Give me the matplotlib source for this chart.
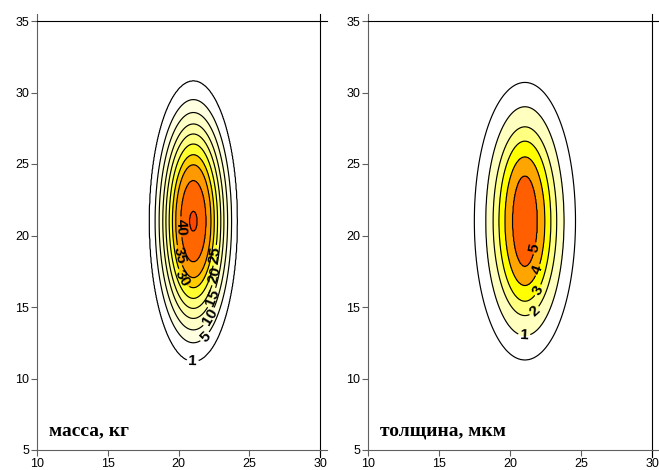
import numpy as np
import matplotlib.pyplot as plt
from matplotlib.font_manager import FontProperties

# ---- data ----
# left panel: масса, кг  (contour level -> half height / half width of the ellipse, in axis units)
mass_levels = [1, 5, 10, 15, 20, 25, 30, 35, 40, 45]
mass_half_h = [9.8, 8.5, 7.6, 6.8, 6.1, 5.4, 4.65, 3.95, 2.85, 0.7]
mass_half_w = [3.1, 2.7, 2.42, 2.16, 1.94, 1.71, 1.48, 1.25, 0.9, 0.28]
mass_peak = 46
mass_labels = [1, 5, 10, 15, 20, 25, 30, 35, 40]

# right panel: толщина, мкм
thick_levels = [0.5, 1, 2, 3, 4, 5]
thick_half_h = [9.7, 8.0, 6.6, 5.6, 4.5, 3.17]
thick_half_w = [3.56, 2.75, 2.24, 1.83, 1.41, 0.88]
thick_peak = 5.8
thick_labels = [1, 2, 3, 4, 5]

center_x, center_y = 21.05, 21.0

x_ticks = [10, 15, 20, 25, 30]
y_ticks = [5, 10, 15, 20, 25, 30, 35]

mass_colors = ['white', '#FFFFE2', '#FFFFC8', '#FFFFA8', '#FFFF80', '#FFFF30',
               '#FFCC00', '#FF9900', '#FF6600', '#FF4400']
thick_colors = ['white', '#FFFFC0', '#FFFF80', '#FFFF00', '#FFA500', '#FF5F00']


def build_field(levels, half_w, half_h, peak, X, Y):
    # surface whose contours are the nested ellipses above
    lv = [0.0] + list(levels) + [peak]
    aw = [half_w[0] * 1.6] + list(half_w) + [half_w[-1] * 0.2]
    ah = [half_h[0] * 1.6] + list(half_h) + [half_h[-1] * 0.2]
    R = np.array([np.hypot((X - center_x) / a, (Y - center_y) / b)
                  for a, b in zip(aw, ah)])
    Z = np.zeros_like(X)
    for k in range(len(lv) - 1):
        m = (R[k] < 1) & (R[k + 1] >= 1)
        t = (1 - R[k]) / (R[k + 1] - R[k])
        Z[m] = lv[k] + t[m] * (lv[k + 1] - lv[k])
    Z[R[-1] < 1] = lv[-1]
    return Z


xs = np.linspace(10, 30, 500)
ys = np.linspace(5, 35, 700)
X, Y = np.meshgrid(xs, ys)

plt.rcParams['font.family'] = ['Liberation Sans', 'DejaVu Sans']
label_font = FontProperties(family='Liberation Sans', weight='bold', size=11)

fig = plt.figure(figsize=(6.59, 4.70), dpi=100)
ax1 = fig.add_axes([37 / 659, 20 / 470, 283 / 659, 429 / 470])
ax2 = fig.add_axes([368 / 659, 20 / 470, 284 / 659, 429 / 470])

panels = [
    (ax1, mass_levels, mass_half_w, mass_half_h, mass_peak, mass_colors,
     mass_labels, 'масса, кг',
     [(21.0, 11.3), (21.9, 12.9), (22.2, 14.3), (22.5, 15.6), (22.65, 17.2),
      (22.65, 18.6), (20.3, 17.0), (19.95, 18.6), (20.2, 20.6)]),
    (ax2, thick_levels, thick_half_w, thick_half_h, thick_peak, thick_colors,
     thick_labels, 'толщина, мкм',
     [(21.0, 13.0), (21.75, 14.7), (21.95, 16.2), (21.95, 17.6), (21.75, 19.1)]),
]

for ax, levels, hw, hh, peak, colors, lab, title, lab_pos in panels:
    Z = build_field(levels, hw, hh, peak, X, Y)
    ax.contourf(X, Y, Z, levels=list(levels) + [peak + 10], colors=colors)
    plain = [v for v in levels if v not in lab]
    ax.contour(X, Y, Z, levels=plain, colors='black', linewidths=0.85)
    cs = ax.contour(X, Y, Z, levels=lab, colors='black', linewidths=0.85)
    texts = ax.clabel(cs, manual=lab_pos, fmt='%g', fontsize=11,
                      inline=True, inline_spacing=2)
    for t in texts:
        t.set_fontproperties(label_font)

    ax.set_xlim(10, 30)
    ax.set_ylim(5, 35)
    ax.set_xticks(x_ticks)
    ax.set_yticks(y_ticks)
    ax.tick_params(direction='out', length=4.5, width=0.8, pad=1,
                   labelsize=9, color='#606060')
    ax.spines['left'].set_color('#606060')
    ax.spines['bottom'].set_color('#606060')
    ax.spines['top'].set_color('black')
    ax.spines['right'].set_color('black')
    for s in ax.spines.values():
        s.set_linewidth(0.8)
    # small overhangs at the frame corners
    ex, ey = 7 / 283, 7 / 429
    ax.plot([1, 1 + ex], [1, 1], color='black', lw=0.8, clip_on=False, transform=ax.transAxes)
    ax.plot([1, 1], [1, 1 + ey], color='black', lw=0.8, clip_on=False, transform=ax.transAxes)
    ax.plot([0, 0], [1, 1 + ey], color='#606060', lw=0.8, clip_on=False, transform=ax.transAxes)
    ax.plot([1, 1 + ex], [0, 0], color='#606060', lw=0.8, clip_on=False, transform=ax.transAxes)
    ax.plot([1, 1], [0, -ey], color='black', lw=0.8, clip_on=False, transform=ax.transAxes)

    ax.text(0.042, 0.034, title, transform=ax.transAxes, family='Liberation Serif',
            weight='bold', fontsize=14)

fig.savefig('out.png', dpi=100)
